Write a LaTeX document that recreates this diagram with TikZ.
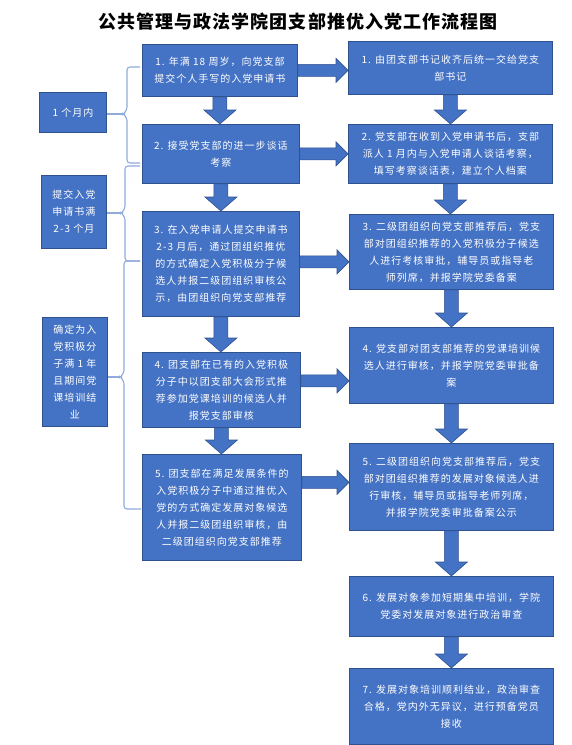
\documentclass[tikz,border=0pt]{standalone}
\usepackage{fontspec}
\setmainfont{Noto Sans CJK SC}
\newfontfamily\boxfont{Noto Sans CJK SC}[LetterSpace=10]
\newfontfamily\titlefont{Noto Sans CJK SC}[LetterSpace=6]
\usetikzlibrary{calc}
\definecolor{boxblue}{RGB}{68,114,196}
\definecolor{boxedge}{RGB}{47,82,143}
\definecolor{bracecol}{RGB}{143,170,220}

\begin{document}
\begin{tikzpicture}[x=1pt,y=-1pt,
    box/.style={draw=boxedge,fill=boxblue,text=white,line width=0.8pt,align=center,
      anchor=north west,inner sep=0pt,font=\boxfont\fontsize{10}{17}\selectfont},
    harrow/.style={draw=boxedge,fill=boxblue,line width=0.6pt,to path={
      let \p1=(\tikztostart),\p2=(\tikztotarget) in
      (\x1,\y1+6pt) -- (\x2-12pt,\y1+6pt) -- (\x2-12pt,\y1+12pt) -- (\x2,\y1)
      -- (\x2-12pt,\y1-12pt) -- (\x2-12pt,\y1-6pt) -- (\x1,\y1-6pt) -- cycle}},
    varrow/.style={draw=boxedge,fill=boxblue,line width=0.6pt,to path={
      let \p1=(\tikztostart),\p2=(\tikztotarget) in
      (\x1-7pt,\y1) -- (\x1-7pt,\y2+14pt) -- (\x1-16pt,\y2+14pt) -- (\x1,\y2)
      -- (\x1+16pt,\y2+14pt) -- (\x1+7pt,\y2+14pt) -- (\x1+7pt,\y1) -- cycle}},
    bracket/.style={draw=bracecol,line width=1.1pt,rounded corners=3pt}]
  \useasboundingbox (0,0) rectangle (571,745);

  % title
  \node[font=\titlefont\bfseries\fontsize{18}{20}\selectfont] (title) at (298,22)
    {公共管理与政法学院团支部推优入党工作流程图};

  % left column: time spans
  \node[box,minimum width=67pt,minimum height=40pt] (L1) at (39,92) {1 个月内};
  \node[box,minimum width=65pt,minimum height=73pt] (L2) at (41,175)
    {提交入党\\申请书满\\2-3 个月};
  \node[box,minimum width=65pt,minimum height=109pt] (L3) at (42,317)
    {确定为入\\党积极分\\子满 1 年\\且期间党\\课培训结\\业};

  % middle column
  \node[box,minimum width=155pt,minimum height=52pt] (M1) at (142,44)
    {1. 年满 18 周岁，向党支部\\提交个人手写的入党申请书};
  \node[box,minimum width=157pt,minimum height=59pt] (M2) at (142,124)
    {2. 接受党支部的进一步谈话\\考察};
  \node[box,minimum width=157pt,minimum height=105pt] (M3) at (142,211)
    {3. 在入党申请人提交申请书\\2-3 月后，通过团组织推优\\的方式确定入党积极分子候\\选人并报二级团组织审核公\\示，由团组织向党支部推荐};
  \node[box,minimum width=158pt,minimum height=75pt] (M4) at (142,352)
    {4. 团支部在已有的入党积极\\分子中以团支部大会形式推\\荐参加党课培训的候选人并\\报党支部审核};
  \node[box,minimum width=159pt,minimum height=106pt] (M5) at (142,454)
    {5. 团支部在满足发展条件的\\入党积极分子中通过推优入\\党的方式确定发展对象候选\\人并报二级团组织审核，由\\二级团组织向党支部推荐};

  % right column
  \node[box,minimum width=204pt,minimum height=53pt] (R1) at (348,41)
    {1. 由团支部书记收齐后统一交给党支\\部书记};
  \node[box,minimum width=204pt,minimum height=59pt] (R2) at (348,124)
    {2. 党支部在收到入党申请书后，支部\\派人 1 月内与入党申请人谈话考察，\\填写考察谈话表，建立个人档案};
  \node[box,minimum width=204pt,minimum height=75pt] (R3) at (349,214)
    {3. 二级团组织向党支部推荐后，党支\\部对团组织推荐的入党积极分子候选\\人进行考核审批，辅导员或指导老\\师列席，并报学院党委备案};
  \node[box,minimum width=204pt,minimum height=76pt] (R4) at (349,327)
    {4. 党支部对团支部推荐的党课培训候\\选人进行审核，并报学院党委审批备\\案};
  \node[box,minimum width=204pt,minimum height=87pt] (R5) at (349,443)
    {5. 二级团组织向党支部推荐后，党支\\部对团组织推荐的发展对象候选人进\\行审核，辅导员或指导老师列席，\\并报学院党委审批备案公示};
  \node[box,minimum width=204pt,minimum height=60pt] (R6) at (349,576)
    {6. 发展对象参加短期集中培训，学院\\党委对发展对象进行政治审查};
  \node[box,minimum width=204pt,minimum height=76pt] (R7) at (349,668)
    {7. 发展对象培训顺利结业，政治审查\\合格，党内外无异议，进行预备党员\\接收};

  % arrows
  \draw[varrow] (M1.south) to (M2.north);
  \draw[varrow] (M2.south) to (M3.north);
  \draw[varrow] (M3.south) to (M4.north);
  \draw[varrow] (M4.south) to (M5.north);
  \draw[varrow] (R1.south) to (R2.north);
  \draw[varrow] (R2.south) to (R3.north);
  \draw[varrow] (R3.south) to (R4.north);
  \draw[varrow] (R4.south) to (R5.north);
  \draw[varrow] (R5.south) to (R6.north);
  \draw[varrow] (R6.south) to (R7.north);
  \draw[harrow] (M1.east) to (R1.west);
  \draw[harrow] (M2.east) to (R2.west);
  \draw[harrow] ([yshift=2pt]M3.east) to (R3.west);
  \draw[harrow] ([yshift=9pt]M4.east) to (R4.west);
  \draw[harrow] ([yshift=25pt]M5.east) to (R5.west);

  % brackets
  \coordinate (t1) at (123,114);
  \coordinate (t2) at (121,213);
  \coordinate (t3) at (120,377);
  \draw[bracket] (140,67) -- (127,67) -- (127,110) -- (t1) -- (127,118) -- (127,163) -- (140,163);
  \draw[bracket] (140,166) -- (125,166) -- (125,209) -- (t2) -- (125,217) -- (125,261) -- (140,261);
  \draw[bracket] (140,261) -- (124,261) -- (124,373) -- (t3) -- (124,381) -- (124,509) -- (141,509);
  \draw[bracket] (L1.east |- t1) -- (t1);
  \draw[bracket] (L2.east |- t2) -- (t2);
  \draw[bracket] (L3.east |- t3) -- (t3);
\end{tikzpicture}
\end{document}
